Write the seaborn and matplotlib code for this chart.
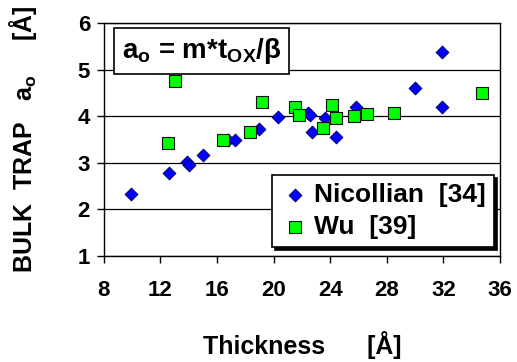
import numpy as np
import pandas as pd
import matplotlib
matplotlib.use("Agg")
import matplotlib.pyplot as plt
import seaborn as sns

# data
nic_thickness = [9.9, 12.6, 13.9, 14.0, 15.0, 16.8, 17.3, 19.0, 20.3, 22.4, 22.6, 22.7, 23.6, 24.4, 25.8, 30.0, 31.9, 31.9]
nic_a0 = [2.32, 2.79, 3.01, 2.96, 3.16, 3.48, 3.48, 3.72, 3.99, 4.06, 4.02, 3.66, 3.97, 3.56, 4.20, 4.61, 5.38, 4.20]
wu_thickness = [12.5, 13.0, 16.4, 18.3, 19.2, 21.5, 21.8, 23.5, 24.1, 24.4, 25.7, 26.6, 28.5, 34.7]
wu_a0 = [3.43, 4.76, 3.49, 3.66, 4.31, 4.19, 4.03, 3.75, 4.24, 3.96, 4.01, 4.05, 4.07, 4.51]
x_ticks = [8, 12, 16, 20, 24, 28, 32, 36]
y_ticks = [1, 2, 3, 4, 5, 6]

nic = pd.DataFrame({"thickness": nic_thickness, "a0": nic_a0})
wu = pd.DataFrame({"thickness": wu_thickness, "a0": wu_a0})

sns.set_style("white")
plt.rcParams["font.family"] = "Liberation Sans"
plt.rcParams["font.weight"] = "bold"
plt.rcParams["axes.labelweight"] = "bold"
plt.rcParams["text.color"] = "black"
plt.rcParams["axes.labelcolor"] = "black"
plt.rcParams["xtick.color"] = "black"
plt.rcParams["ytick.color"] = "black"
plt.rcParams["mathtext.fontset"] = "custom"
plt.rcParams["mathtext.rm"] = "Liberation Sans:bold"
plt.rcParams["mathtext.it"] = "Liberation Sans:bold"
plt.rcParams["mathtext.bf"] = "Liberation Sans:bold"

fig = plt.figure(figsize=(5.17, 3.62), dpi=100)
ax = fig.add_axes([0.201, 0.293, 0.766, 0.643])

ax.set_axisbelow(True)
ax.grid(axis="y", color="black", linewidth=0.9)
ax.grid(axis="x", visible=False)

sns.scatterplot(data=nic, x="thickness", y="a0", marker="D", s=42,
                color="#0000FF", edgecolor="#000066", linewidth=0.7,
                label="Nicollian  [34]", ax=ax, zorder=3)
sns.scatterplot(data=wu, x="thickness", y="a0", marker="s", s=70,
                color="#00FF00", edgecolor="#111111", linewidth=0.8,
                label="Wu  [39]", ax=ax, zorder=3)

ax.set_xlim(8, 36)
ax.set_ylim(1, 6)
ax.set_xticks(x_ticks)
ax.set_yticks(y_ticks)
ax.tick_params(axis="both", direction="out", length=5, width=1, color="black",
               labelsize=16, bottom=True, left=True)
ax.tick_params(axis="y", pad=5)
ax.tick_params(axis="x", pad=12)
for lbl in ax.get_xticklabels() + ax.get_yticklabels():
    lbl.set_fontweight("bold")

for sp in ax.spines.values():
    sp.set_color("black")
    sp.set_linewidth(1)

ax.set_xlabel("Thickness      [Å]", fontsize=18, fontweight="bold", labelpad=22)
ax.set_ylabel(r"BULK  TRAP   a$_\mathregular{o}$     [Å]", fontsize=18, fontweight="bold", labelpad=28)

leg = ax.legend(loc="lower right", bbox_to_anchor=(0.985, 0.039), frameon=True,
                fancybox=False, shadow={"color": "black", "alpha": 1, "ox": 2, "oy": -2},
                edgecolor="black", framealpha=1, prop={"size": 19, "weight": "bold"},
                handletextpad=0.2, borderpad=0.3, labelspacing=0.3, handlelength=1.1,
                borderaxespad=0)
leg.get_frame().set_linewidth(1.2)

t = ax.text(0.045, 0.945, r"a$_\mathregular{o}$ = m*t$_\mathregular{OX}$/β", transform=ax.transAxes,
            fontsize=20, fontweight="bold", va="top", ha="left", zorder=5,
            bbox=dict(boxstyle="square,pad=0.28", facecolor="white", edgecolor="black", linewidth=1.2))

fig.savefig("out.png", dpi=100)
